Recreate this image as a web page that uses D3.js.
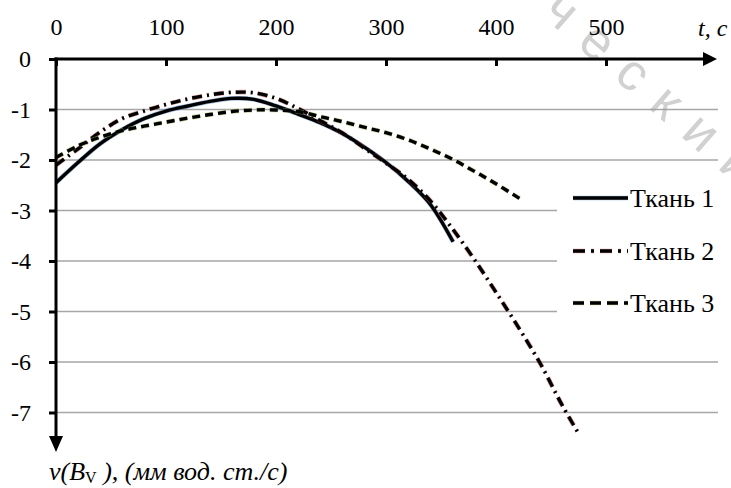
<!DOCTYPE html>
<html><head><meta charset="utf-8">
<script src="https://cdn.jsdelivr.net/npm/d3@7"></script>
<style>
html,body{margin:0;padding:0;background:#fff;}
svg{display:block;}
</style></head>
<body>
<svg id="chart" width="731" height="488"></svg>
<script>
const xTicks = [0, 100, 200, 300, 400, 500];
const yTicks = [0, -1, -2, -3, -4, -5, -6, -7];
const seriesNames = ["Ткань 1", "Ткань 2", "Ткань 3"];
const t1 = [0,20,40,60,80,100,120,140,160,180,200,220,240,260,280,300,320,340,361];
const v1 = [-2.45,-2.05,-1.68,-1.40,-1.18,-1.03,-0.93,-0.84,-0.78,-0.80,-0.93,-1.09,-1.26,-1.47,-1.74,-2.05,-2.42,-2.87,-3.62];
const t2 = [0,20,40,60,80,100,120,140,160,180,200,220,240,260,280,300,320,340,360,380,400,420,440,460,476];
const v2 = [-2.10,-1.78,-1.45,-1.18,-1.03,-0.90,-0.79,-0.71,-0.66,-0.67,-0.78,-0.98,-1.22,-1.46,-1.76,-2.06,-2.38,-2.80,-3.35,-3.96,-4.62,-5.30,-6.02,-6.85,-7.45];
const t3 = [0,20,40,60,80,100,120,140,160,180,200,220,240,260,280,300,320,340,360,380,400,422];
const v3 = [-1.95,-1.72,-1.55,-1.42,-1.33,-1.25,-1.17,-1.10,-1.04,-1.01,-1.01,-1.04,-1.14,-1.24,-1.35,-1.46,-1.60,-1.78,-1.98,-2.22,-2.47,-2.77];
const edgeColors = ["#4f81bd", "#c0504d", "#9bbb59"];
const dashes = [null, "10,5,2,5", "8,5"];
const watermark = "ический";

const svg = d3.select("#chart");
const x = d3.scaleLinear().domain([0, 500]).range([56, 606]);
const y = d3.scaleLinear().domain([0, -7]).range([59, 412.5]);
const serif = '"Liberation Serif", "Times New Roman", Tinos, monospace';

// gridlines
const gridRight = 718;
svg.append("g").selectAll("line").data(yTicks.filter(d => d !== 0)).join("line")
  .attr("x1", x(0)).attr("x2", gridRight)
  .attr("y1", d => y(d)).attr("y2", d => y(d))
  .attr("stroke", "#a6a6a6").attr("stroke-width", 1.5);

// legend backdrop (hides gridlines behind the legend)
svg.append("rect").attr("x", 557).attr("y", 172).attr("width", 174).attr("height", 160).attr("fill", "#fff");

// watermark
svg.append("text").attr("transform", "translate(512,-28) rotate(41)")
  .attr("dy", "0.26em").style("font-family", '"Liberation Sans", Arimo, monospace')
  .style("font-size", "52px").style("letter-spacing", "20px")
  .attr("fill", "#9a9a9a").attr("fill-opacity", 0.45).text(watermark);

// series
const data = [t1.map((t,i)=>[t,v1[i]]), t2.map((t,i)=>[t,v2[i]]), t3.map((t,i)=>[t,v3[i]])];
const line = d3.line().x(d => x(d[0])).y(d => y(d[1])).curve(d3.curveCatmullRom.alpha(0.5));
const gS = svg.append("g");
data.forEach((d, i) => {
  gS.append("path").datum(d).attr("d", line).attr("fill", "none")
    .attr("stroke", edgeColors[i]).attr("stroke-width", 4.6).attr("stroke-opacity", 0.55)
    .attr("stroke-dasharray", dashes[i]);
  gS.append("path").datum(d).attr("d", line).attr("fill", "none")
    .attr("stroke", "#000").attr("stroke-width", 3.4)
    .attr("stroke-dasharray", dashes[i]);
});

// legend
const leg = svg.append("g");
const legY = [198, 251, 303];
const legDash = [null, "12,6,3,6", "11,6"];
seriesNames.forEach((name, i) => {
  leg.append("line").attr("x1", 573).attr("x2", 628).attr("y1", legY[i]).attr("y2", legY[i])
    .attr("stroke", edgeColors[i]).attr("stroke-width", 4.6).attr("stroke-opacity", 0.55)
    .attr("stroke-dasharray", legDash[i]);
  leg.append("line").attr("x1", 573).attr("x2", 628).attr("y1", legY[i]).attr("y2", legY[i])
    .attr("stroke", "#000").attr("stroke-width", 3.6)
    .attr("stroke-dasharray", legDash[i]);
  leg.append("text").attr("x", 630).attr("y", legY[i]).attr("dy", "0.35em")
    .style("font-family", serif).style("font-size", "26px").attr("fill", "#000").text(name);
});

// axes
const xAxis = d3.axisTop(x).tickValues(xTicks).tickSize(-7).tickPadding(24).tickFormat(d3.format("d"));
const gx = svg.append("g").attr("transform", `translate(0,${y(0)})`).call(xAxis);
gx.select(".domain").remove();
gx.selectAll(".tick line").attr("stroke", "#000").attr("stroke-width", 3);
gx.selectAll(".tick text").style("font-family", serif).style("font-size", "24px").attr("fill", "#000");

const yAxis = d3.axisLeft(y).tickValues(yTicks).tickSize(7).tickPadding(18).tickFormat(d3.format("d"));
const gy = svg.append("g").attr("transform", `translate(${x(0)},0)`).call(yAxis);
gy.select(".domain").remove();
gy.selectAll(".tick line").attr("stroke", "#000").attr("stroke-width", 3);
gy.selectAll(".tick text").style("font-family", serif).style("font-size", "24px").attr("fill", "#000")
  .text(d => d === 0 ? "0" : "-" + Math.abs(d));

// axis lines with arrows
svg.append("line").attr("x1", x(0) - 1.5).attr("x2", 704).attr("y1", y(0)).attr("y2", y(0))
  .attr("stroke", "#000").attr("stroke-width", 3);
svg.append("path").attr("d", `M703,${y(0)-7} L717,${y(0)} L703,${y(0)+7} Z`).attr("fill", "#000");
svg.append("line").attr("x1", x(0)).attr("x2", x(0)).attr("y1", y(0) - 1.5).attr("y2", 438)
  .attr("stroke", "#000").attr("stroke-width", 3);
svg.append("path").attr("d", `M${x(0)-7},436 L${x(0)},452 L${x(0)+7},436 Z`).attr("fill", "#000");

// axis titles
svg.append("text").attr("x", 698).attr("y", 36).style("font-family", serif).style("font-style", "italic")
  .style("font-size", "24px").attr("fill", "#000").text("t, c");
const yl = svg.append("text").attr("x", 49).attr("y", 480).style("font-family", serif)
  .style("font-style", "italic").style("font-size", "26px").attr("fill", "#000");
yl.append("tspan").text("v(B");
yl.append("tspan").style("font-size", "16px").style("font-style", "normal").attr("dy", 3).text("V");
yl.append("tspan").attr("dy", -3).text(" ), (мм вод. ст./с)");
</script>
</body></html>
